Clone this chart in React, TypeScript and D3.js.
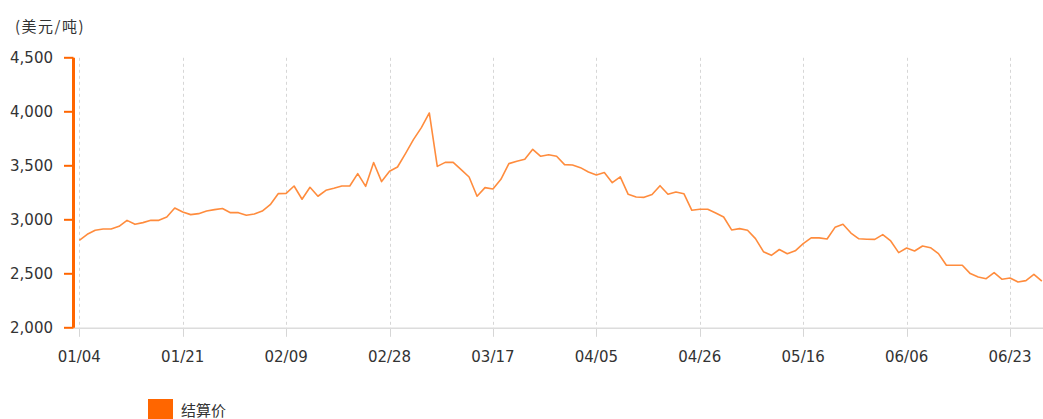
import React from "react";
import * as d3 from "d3";

const dates: string[] = [
  "01/04","01/05","01/06","01/07","01/10","01/11","01/12","01/13","01/14","01/17","01/18","01/19","01/20","01/21",
  "01/24","01/25","01/26","01/27","01/28","01/31","02/01","02/02","02/03","02/04","02/07","02/08","02/09",
  "02/10","02/11","02/14","02/15","02/16","02/17","02/18","02/21","02/22","02/23","02/24","02/25","02/28",
  "03/01","03/02","03/03","03/04","03/07","03/08","03/09","03/10","03/11","03/14","03/15","03/16","03/17",
  "03/18","03/21","03/22","03/23","03/24","03/25","03/28","03/29","03/30","03/31","04/01","04/04","04/05",
  "04/06","04/07","04/08","04/11","04/12","04/13","04/14","04/19","04/20","04/21","04/22","04/25","04/26",
  "04/27","04/28","04/29","05/03","05/04","05/05","05/06","05/09","05/10","05/11","05/12","05/13","05/16",
  "05/17","05/18","05/19","05/20","05/23","05/24","05/25","05/26","05/27","05/30","05/31","06/01","06/06",
  "06/07","06/08","06/09","06/10","06/13","06/14","06/15","06/16","06/17","06/20","06/21","06/22","06/23",
  "06/24","06/27","06/28","06/29",
];

const settlement: number[] = [
  2810, 2866, 2903, 2915, 2915, 2940, 2995, 2958, 2974, 2995, 2995, 3026, 3109, 3072,
  3048, 3057, 3081, 3094, 3104, 3066, 3066, 3042, 3054, 3081, 3140, 3242, 3245,
  3313, 3190, 3301, 3218, 3273, 3292, 3313, 3313, 3428, 3310, 3530, 3354, 3449,
  3489, 3613, 3742, 3853, 3989, 3495, 3532, 3532, 3465, 3396, 3218, 3298, 3285,
  3375, 3520, 3542, 3560, 3653, 3588, 3603, 3588, 3511, 3508, 3483, 3443, 3415,
  3437, 3344, 3398, 3236, 3211, 3208, 3235, 3316, 3236, 3258, 3242, 3088, 3097,
  3097, 3063, 3026, 2906, 2918, 2903, 2826, 2705, 2671, 2725, 2685, 2713, 2780,
  2833, 2833, 2822, 2930, 2958, 2877, 2824, 2820, 2819, 2863, 2804, 2696, 2739,
  2711, 2757, 2742, 2687, 2579, 2579, 2579, 2502, 2470, 2455, 2511, 2449, 2461,
  2424, 2437, 2495, 2433,
];

const tickLabels: string[] = ["01/04","01/21","02/09","02/28","03/17","04/05","04/26","05/16","06/06","06/23"];
const yTicks: number[] = [2000, 2500, 3000, 3500, 4000, 4500];
const unitLabel = "(美元/吨)";
const seriesName = "结算价";

export default function App() {
  const W = 1043, H = 419;
  const x = d3.scaleLinear().domain([0, dates.length - 1]).range([79.3, 79.3 + (dates.length - 1) * 7.955]);
  const y = d3.scaleLinear().domain([2000, 4500]).range([327.8, 57.8]);
  const line = d3.line<number>().x((_, i) => x(i)).y((d) => y(d));
  const axisLeft = 73.5;
  const font = "'DejaVu Sans', Verdana, sans-serif";
  return (
    <svg width={W} height={H} style={{ position: "absolute", left: 0, top: 0 }} xmlns="http://www.w3.org/2000/svg">
      <rect width={W} height={H} fill="#fff" />
      <text x={15} y={32} fontSize={15} letterSpacing={1.5} fill="#333" fontFamily="'Noto Sans CJK SC', sans-serif">{unitLabel}</text>
      {tickLabels.map((t) => {
        const i = dates.indexOf(t);
        const xx = Math.round(x(i)) + 0.5;
        return (
          <g key={t}>
            <line x1={xx} x2={xx} y1={y(4500)} y2={y(2000)} stroke="#d6d6d6" strokeDasharray="3,3" />
            <line x1={xx} x2={xx} y1={y(2000)} y2={y(2000) + 9} stroke="#d6d6d6" />
            <text x={x(i)} y={362} textAnchor="middle" fontSize={15} fill="#333" fontFamily={font}>{t}</text>
          </g>
        );
      })}
      <line x1={axisLeft} x2={W} y1={y(2000) + 0.5} y2={y(2000) + 0.5} stroke="#dcdcdc" strokeWidth={1.5} />
      <path d={line(settlement) || ""} fill="none" stroke="#ff8c3d" strokeWidth={1.6} strokeLinejoin="round" />
      <line x1={axisLeft} x2={axisLeft} y1={y(4500)} y2={y(2000)} stroke="#ff6600" strokeWidth={3} />
      {yTicks.map((v) => (
        <g key={v}>
          <line x1={64} x2={axisLeft} y1={y(v)} y2={y(v)} stroke="#ff6600" strokeWidth={2} />
          <text x={53} y={y(v) + 5.5} textAnchor="end" fontSize={15} fill="#333" fontFamily={font}>{d3.format(",")(v)}</text>
        </g>
      ))}
      <rect x={148} y={399} width={25} height={25} fill="#ff6600" />
      <text x={181} y={416} fontSize={15} fill="#333" fontFamily="'Noto Sans CJK SC', sans-serif">{seriesName}</text>
    </svg>
  );
}
